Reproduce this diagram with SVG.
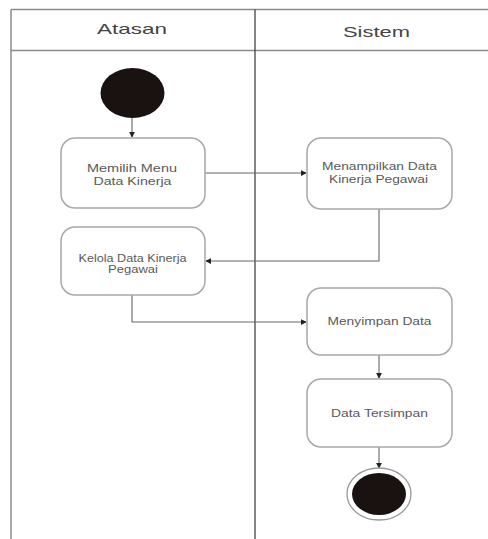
<svg xmlns="http://www.w3.org/2000/svg" width="488" height="539" viewBox="0 0 488 539">
<style>
.frame{stroke:#8a8a8a;stroke-width:1.5;fill:none}
.div{stroke:#333;stroke-width:1.2;fill:none}
.box{fill:#fff;stroke:#a8a8a8;stroke-width:1.5}
.t{font-family:"Liberation Sans",Arial,sans-serif;font-size:11.5px;fill:#5a5a5a;text-anchor:middle}
.h{font-family:"Liberation Sans",Arial,sans-serif;font-size:15px;fill:#444;text-anchor:middle}
.c{stroke:#666;stroke-width:1.1;fill:none;marker-end:url(#ah)}
</style>
<defs>
<marker id="ah" viewBox="0 0 8 8" refX="7" refY="4" markerWidth="6" markerHeight="6" orient="auto" markerUnits="userSpaceOnUse">
<path d="M0,0 L8,4 L0,8 z" fill="#222"/>
</marker>
</defs>
<rect width="488" height="539" fill="#fff"/>
<g id="swimlanes">
<line class="frame" x1="11" y1="9.5" x2="488" y2="9.5"/>
<line class="frame" x1="11" y1="50.5" x2="488" y2="50.5"/>
<line class="frame" x1="11" y1="9.5" x2="11" y2="539"/>
<line class="div" x1="255" y1="9.5" x2="255" y2="539"/>
<text class="h" x="132" y="34" textLength="70" lengthAdjust="spacingAndGlyphs">Atasan</text>
<text class="h" x="376.5" y="36.5" textLength="67" lengthAdjust="spacingAndGlyphs">Sistem</text>
</g>
<g id="connectors">
<line class="c" x1="132" y1="118" x2="132" y2="137"/>
<line class="c" x1="205" y1="173" x2="306" y2="173"/>
<polyline class="c" points="379,209 379,261 206,261"/>
<polyline class="c" points="132,295 132,322 306,322"/>
<line class="c" x1="379" y1="355" x2="379" y2="378"/>
<line class="c" x1="379" y1="447" x2="379" y2="468"/>
</g>
<g id="start">
<ellipse cx="132.5" cy="93" rx="32" ry="25" fill="#1a1210"/>
</g>
<g id="memilih">
<rect class="box" x="61" y="138" width="144" height="70" rx="14"/>
<text class="t" x="132" y="172" textLength="90" lengthAdjust="spacingAndGlyphs">Memilih Menu</text>
<text class="t" x="132.5" y="185" textLength="78" lengthAdjust="spacingAndGlyphs">Data Kinerja</text>
</g>
<g id="menampilkan">
<rect class="box" x="307" y="138" width="145" height="71" rx="14"/>
<text class="t" x="379.5" y="170" textLength="115" lengthAdjust="spacingAndGlyphs">Menampilkan Data</text>
<text class="t" x="378.5" y="183" textLength="99" lengthAdjust="spacingAndGlyphs">Kinerja Pegawai</text>
</g>
<g id="kelola">
<rect class="box" x="61" y="227" width="144" height="68" rx="14"/>
<text class="t" x="132.5" y="262" textLength="108" lengthAdjust="spacingAndGlyphs">Kelola Data Kinerja</text>
<text class="t" x="133" y="273" textLength="50" lengthAdjust="spacingAndGlyphs">Pegawai</text>
</g>
<g id="menyimpan">
<rect class="box" x="307" y="288" width="145" height="67" rx="14"/>
<text class="t" x="379.5" y="325" textLength="104" lengthAdjust="spacingAndGlyphs">Menyimpan Data</text>
</g>
<g id="tersimpan">
<rect class="box" x="307" y="379" width="145" height="68" rx="14"/>
<text class="t" x="379.5" y="417" textLength="97" lengthAdjust="spacingAndGlyphs">Data Tersimpan</text>
</g>
<g id="end">
<ellipse cx="379" cy="494" rx="32" ry="26" fill="#fff" stroke="#999" stroke-width="1.3"/>
<ellipse cx="379" cy="494" rx="27" ry="21" fill="#1a1210"/>
</g>
</svg>
